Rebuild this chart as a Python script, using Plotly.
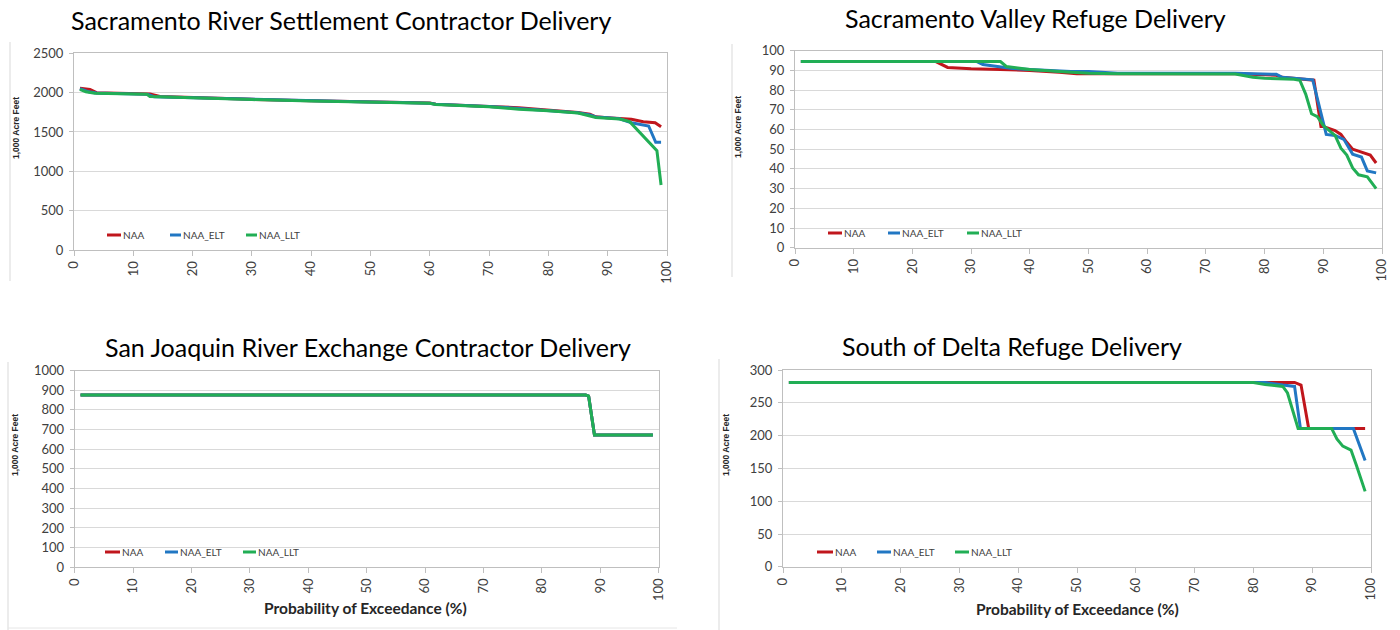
import plotly.graph_objects as go

W, H = 1400, 630

# ---------------- DATA ----------------
series_names = ["NAA", "NAA_ELT", "NAA_LLT"]
series_colors = ["#C0161C", "#2177C3", "#21AE55"]

# Panel 1: Sacramento River Settlement Contractor Delivery
sr_naa_x = [1, 2.7, 3.8, 10, 12.8, 14.5, 20, 30, 40, 48, 55, 60, 61, 66, 70, 75, 80, 85, 87, 88, 90, 92, 94, 96, 98, 99]
sr_naa_y = [2056, 2040, 2000, 1988, 1983, 1950, 1935, 1915, 1898, 1885, 1875, 1868, 1852, 1842, 1825, 1808, 1780, 1748, 1725, 1692, 1680, 1672, 1662, 1631, 1618, 1567]
sr_elt_x = [1, 2.5, 3.8, 10, 12.5, 13.5, 20, 30, 40, 48, 55, 60, 61, 66, 70, 75, 80, 85, 87, 88, 90, 92, 94, 96.9, 98.1, 99]
sr_elt_y = [2050, 2010, 1995, 1985, 1978, 1948, 1935, 1915, 1898, 1885, 1875, 1866, 1852, 1840, 1823, 1800, 1776, 1745, 1715, 1690, 1680, 1668, 1618, 1576, 1369, 1369]
sr_llt_x = [1, 2, 3.5, 10, 12.3, 12.8, 20, 30, 40, 48, 55, 60, 61, 66, 70, 75, 80, 85, 87, 88, 90, 92, 93.7, 95.6, 98.3, 99]
sr_llt_y = [2043, 2010, 1991, 1985, 1980, 1950, 1932, 1912, 1895, 1885, 1873, 1864, 1850, 1838, 1820, 1790, 1770, 1740, 1700, 1685, 1675, 1665, 1631, 1483, 1262, 826]

# Panel 2: Sacramento Valley Refuge Delivery
sv_naa_x = [1, 24, 26, 30, 35, 40, 45, 48, 55, 75, 80, 82, 83, 86, 88.4, 89.6, 90, 92, 93, 94, 95, 96, 98, 99]
sv_naa_y = [94.5, 94.5, 91.5, 90.8, 90.5, 90, 89, 88.3, 88.3, 88.3, 87.8, 87.5, 86.5, 85.5, 85, 61.5, 61.5, 59.5, 57.5, 53.5, 50, 49, 47, 43]
sv_elt_x = [1, 31, 32, 35, 37, 40, 47, 50, 55, 75, 82, 83, 86, 88.2, 90.5, 92, 93.5, 95, 96.5, 97.5, 99]
sv_elt_y = [94.5, 94.5, 93, 92, 91, 90.5, 89.5, 89.5, 88.5, 88.5, 88, 86.5, 85.8, 85.2, 57.5, 57, 55, 47.5, 46, 39, 38]
sv_llt_x = [1, 35, 36, 38, 40, 45, 50, 55, 75, 78, 80, 85, 86, 87, 88, 89, 90, 92, 93, 94, 95, 96, 97.5, 99]
sv_llt_y = [94.5, 94.5, 92, 91.3, 90.5, 89.5, 88.5, 88.3, 88.2, 86.5, 86, 85.5, 85, 78, 68, 66.5, 62, 57, 50.5, 47, 40.5, 37, 36, 30]

# Panel 3: San Joaquin River Exchange Contractor Delivery
sj_naa_x = [1, 87.5, 88, 89, 99]
sj_naa_y = [875, 875, 870, 672, 672]
sj_elt_x = [1, 87.5, 88, 89, 99]
sj_elt_y = [875, 875, 870, 672, 672]
sj_llt_x = [1, 87.5, 88, 89, 99]
sj_llt_y = [875, 875, 870, 672, 672]

# Panel 4: South of Delta Refuge Delivery
sd_naa_x = [1, 80, 87, 88.1, 89.4, 99]
sd_naa_y = [281, 281, 281, 277, 211, 211]
sd_elt_x = [1, 82, 85, 87, 88, 97, 99]
sd_elt_y = [281, 281, 277, 275, 211, 211, 162]
sd_llt_x = [1, 80, 82, 85, 85.8, 86.6, 87.6, 93.3, 94.2, 95.2, 96.6, 97.5, 99]
sd_llt_y = [281, 281, 278, 275, 265, 240, 211, 211, 195, 184, 178, 155, 115]

x_ticks = [0, 10, 20, 30, 40, 50, 60, 70, 80, 90, 100]

panels = [
    dict(title="Sacramento River Settlement Contractor Delivery",
         data=[(sr_naa_x, sr_naa_y), (sr_elt_x, sr_elt_y), (sr_llt_x, sr_llt_y)],
         yrange=[0, 2500], ydtick=500),
    dict(title="Sacramento Valley Refuge Delivery",
         data=[(sv_naa_x, sv_naa_y), (sv_elt_x, sv_elt_y), (sv_llt_x, sv_llt_y)],
         yrange=[0, 100], ydtick=10),
    dict(title="San Joaquin River Exchange Contractor Delivery",
         data=[(sj_naa_x, sj_naa_y), (sj_elt_x, sj_elt_y), (sj_llt_x, sj_llt_y)],
         yrange=[0, 1000], ydtick=100),
    dict(title="South of Delta Refuge Delivery",
         data=[(sd_naa_x, sd_naa_y), (sd_elt_x, sd_elt_y), (sd_llt_x, sd_llt_y)],
         yrange=[0, 300], ydtick=50),
]

# ---------------- LAYOUT (pixel geometry) ----------------
def px(x):
    return x / W

def py(y):
    return 1 - y / H

# plot areas: left, right, top, bottom (pixels)
areas = [(74, 667, 53.3, 250), (795, 1382, 50.7, 247.7),
         (74.7, 658.7, 370.5, 567.3), (783, 1371, 370, 566.8)]
title_pos = [(341, 20), (1035, 18), (368, 347), (1012, 346)]
ytitle_pos = [(16, 128), (738, 127), (15, 445), (726, 445)]
xtitle_pos = [None, None, (365, 608), (1077, 609)]
# legend: (line start, line end) for each series, and the row y
legend_lines = [[(107, 121), (170, 181), (246, 257)],
                [(828, 842), (888, 900), (967, 979)],
                [(105, 120), (165, 178), (243, 256)],
                [(817, 833), (877, 891), (955, 969)]]
legend_y = [235, 233, 552, 552]
borders = [(10, 42, 281), (732, 44, 277), (8, 362, 630), (719, 359, 630)]

fig = go.Figure()
layout = dict(
    width=W, height=H,
    margin=dict(l=0, r=0, t=0, b=0, autoexpand=False),
    paper_bgcolor="white", plot_bgcolor="white",
    showlegend=False,
    annotations=[], shapes=[],
)

FONT = "Lato, Carlito, Calibri, sans-serif"
tick_font = dict(family=FONT, size=13, color="#404040")
grid_c = "#D9D9D9"
axis_c = "#BFBFBF"

for i, p in enumerate(panels):
    k = "" if i == 0 else str(i + 1)
    l, r, t, b = areas[i]
    for j, (xs, ys) in enumerate(p["data"]):
        fig.add_trace(go.Scatter(
            x=xs, y=ys, mode="lines", name=series_names[j],
            line=dict(color=series_colors[j], width=3),
            xaxis="x" + k, yaxis="y" + k, showlegend=False,
        ))
    layout["xaxis" + k] = dict(
        domain=[px(l), px(r)], anchor="y" + k, range=[0, 100],
        tickvals=x_ticks, ticktext=[str(v) for v in x_ticks],
        tickangle=-90, tickfont=tick_font, automargin=False,
        showgrid=False, zeroline=False,
        showline=True, linecolor=axis_c, linewidth=1, mirror=True,
        ticks="outside", ticklen=5, tickcolor=axis_c,
    )
    layout["yaxis" + k] = dict(
        domain=[py(b), py(t)], anchor="x" + k, range=p["yrange"],
        dtick=p["ydtick"], tick0=0, tickfont=tick_font, automargin=False,
        showgrid=True, gridcolor=grid_c, gridwidth=1, zeroline=False,
        showline=True, linecolor=axis_c, linewidth=1, mirror=True,
        ticks="outside", ticklen=4, tickcolor=axis_c, ticklabelstandoff=3,
    )
    # legend (line sample + label) for each series
    ly = legend_y[i]
    for j, (x0, x1) in enumerate(legend_lines[i]):
        layout["shapes"].append(dict(
            type="line", xref="paper", yref="paper",
            x0=px(x0), x1=px(x1), y0=py(ly), y1=py(ly),
            line=dict(color=series_colors[j], width=3),
        ))
        layout["annotations"].append(dict(
            text=series_names[j], x=px(x1), y=py(ly), xref="paper", yref="paper",
            xanchor="left", yanchor="middle", showarrow=False,
            font=dict(family=FONT, size=10, color="#404040"),
        ))
    tx, ty = title_pos[i]
    layout["annotations"].append(dict(
        text=p["title"], x=px(tx), y=py(ty), xref="paper", yref="paper",
        xanchor="center", yanchor="middle", showarrow=False,
        font=dict(family=FONT, size=25, color="#000000"),
    ))
    yx, yy = ytitle_pos[i]
    layout["annotations"].append(dict(
        text="<b>1,000 Acre Feet</b>", x=px(yx), y=py(yy), xref="paper", yref="paper",
        xanchor="center", yanchor="middle", showarrow=False, textangle=-90,
        font=dict(family="Liberation Sans, Arial, sans-serif", size=8.5, color="#262626"),
    ))
    if xtitle_pos[i]:
        xx, xy = xtitle_pos[i]
        layout["annotations"].append(dict(
            text="<b>Probability of Exceedance (%)</b>", x=px(xx), y=py(xy),
            xref="paper", yref="paper", xanchor="center", yanchor="middle",
            showarrow=False,
            font=dict(family=FONT, size=15.5, color="#262626"),
        ))
    bx, by0, by1 = borders[i]
    layout["shapes"].append(dict(
        type="line", xref="paper", yref="paper",
        x0=px(bx), x1=px(bx), y0=py(by0), y1=py(by1),
        line=dict(color="#D9D9D9", width=1),
    ))

layout["shapes"].append(dict(
    type="line", xref="paper", yref="paper",
    x0=px(8), x1=px(677), y0=py(628), y1=py(628),
    line=dict(color="#E6E6E6", width=1),
))

fig.update_layout(**layout)
fig.write_html("out.html", config={"displayModeBar": False},
               post_script="document.body.style.margin='0';")
